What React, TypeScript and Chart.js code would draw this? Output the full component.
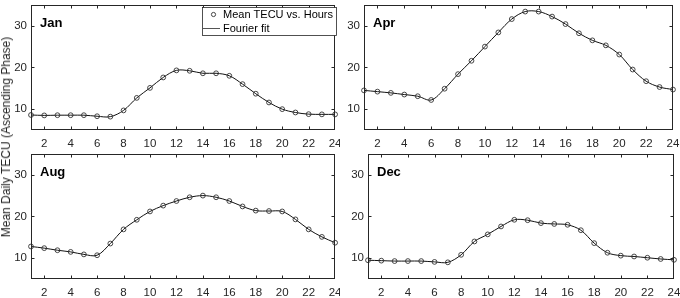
import React, { useEffect, useRef } from "react";
import { Chart, registerables } from "chart.js";

Chart.register(...registerables);

// ---------- data ----------
const hours = [1, 2, 3, 4, 5, 6, 7, 8, 9, 10, 11, 12, 13, 14, 15, 16, 17, 18, 19, 20, 21, 22, 23, 24];
const janValues = [8.6, 8.5, 8.55, 8.55, 8.55, 8.3, 8.2, 9.7, 12.7, 15.1, 17.6, 19.3, 19.2, 18.6, 18.6, 18.0, 16.0, 13.7, 11.6, 10.0, 9.2, 8.8, 8.75, 8.75];
const aprValues = [14.5, 14.2, 13.9, 13.5, 13.1, 12.2, 14.9, 18.4, 21.6, 25.0, 28.4, 31.6, 33.4, 33.4, 32.2, 30.4, 28.2, 26.5, 25.3, 23.1, 19.5, 16.7, 15.3, 14.7];
const augValues = [12.8, 12.4, 11.9, 11.5, 10.9, 10.7, 13.5, 16.9, 19.2, 21.2, 22.6, 23.7, 24.6, 25.0, 24.6, 23.7, 22.4, 21.4, 21.3, 21.2, 19.3, 16.9, 15.1, 13.7];
const decValues = [9.5, 9.4, 9.3, 9.3, 9.3, 9.1, 9.0, 10.8, 14.0, 15.7, 17.6, 19.2, 19.1, 18.4, 18.2, 18.0, 16.7, 13.6, 11.3, 10.6, 10.4, 10.1, 9.8, 9.6];
const xTickValues = [2, 4, 6, 8, 10, 12, 14, 16, 18, 20, 22, 24];
const yTickValues = [10, 20, 30];
const xRange = [1, 24];
const yRange = [5, 35];
const legendLabels = ["Mean TECU vs. Hours", "Fourier fit"];
const yAxisTitle = "Mean Daily TECU (Ascending Phase)";

const FONT = "'Liberation Sans', Arial, Helvetica, sans-serif";
const TEXT = "#262626";

type Area = { left: number; top: number; right: number; bottom: number };
type PanelProps = {
  title: string;
  values: number[];
  pos: { left: number; top: number; width: number; height: number };
  area: Area;
  legend?: boolean;
};

function Panel({ title, values, pos, area, legend }: PanelProps) {
  const ref = useRef<HTMLCanvasElement | null>(null);

  useEffect(() => {
    if (!ref.current) return;
    const pts = hours.map((h, i) => ({ x: h, y: values[i] }));

    const framePlugin = {
      id: "frame",
      afterDraw(chart: any) {
        const ctx = chart.ctx;
        const ca = chart.chartArea;
        const xs = chart.scales.x;
        const ys = chart.scales.y;
        const L = Math.round(ca.left) + 0.5;
        const R = Math.round(ca.right) - 0.5;
        const T = Math.round(ca.top) + 0.5;
        const B = Math.round(ca.bottom) - 0.5;
        ctx.save();
        ctx.strokeStyle = TEXT;
        ctx.lineWidth = 1;
        ctx.strokeRect(L, T, R - L, B - T);
        const tl = 3;
        ctx.beginPath();
        xTickValues.forEach((v) => {
          const px = Math.round(xs.getPixelForValue(v)) + 0.5;
          if (px < R - 1) {
            ctx.moveTo(px, B);
            ctx.lineTo(px, B - tl);
            ctx.moveTo(px, T);
            ctx.lineTo(px, T + tl);
          }
        });
        yTickValues.forEach((v) => {
          const py = Math.round(ys.getPixelForValue(v)) + 0.5;
          ctx.moveTo(L, py);
          ctx.lineTo(L + tl, py);
          ctx.moveTo(R, py);
          ctx.lineTo(R - tl, py);
        });
        ctx.stroke();

        // panel title
        ctx.fillStyle = "#000";
        ctx.font = `bold 13px ${FONT}`;
        ctx.textAlign = "left";
        ctx.textBaseline = "alphabetic";
        ctx.fillText(title, ca.left + 9, ca.top + 22.5);

        if (legend) {
          const bx = 202.5, by = 7.5, bw = 134, bh = 28;
          ctx.fillStyle = "#fff";
          ctx.fillRect(bx, by, bw, bh);
          ctx.strokeStyle = TEXT;
          ctx.lineWidth = 0.8;
          ctx.strokeRect(bx, by, bw, bh);
          // marker
          ctx.beginPath();
          ctx.lineWidth = 0.9;
          ctx.strokeStyle = "#333";
          ctx.arc(213.5, 14.5, 2.1, 0, Math.PI * 2);
          ctx.stroke();
          // line
          ctx.beginPath();
          ctx.strokeStyle = "#555";
          ctx.lineWidth = 1;
          ctx.moveTo(203, 28.5);
          ctx.lineTo(220, 28.5);
          ctx.stroke();
          ctx.fillStyle = "#000";
          ctx.font = `11px ${FONT}`;
          ctx.textBaseline = "middle";
          ctx.fillText(legendLabels[0], 223, 14.5);
          ctx.fillText(legendLabels[1], 223, 28.5);
        }
        ctx.restore();
      },
    };

    const chart = new Chart(ref.current, {
      type: "line",
      data: {
        datasets: [
          {
            label: legendLabels[1],
            data: pts,
            borderColor: "#111",
            borderWidth: 1,
            pointRadius: 0,
            tension: 0.35,
            fill: false,
            order: 2,
          },
          {
            label: legendLabels[0],
            data: pts,
            showLine: false,
            pointRadius: 2.4,
            pointBorderWidth: 0.9,
            pointBorderColor: "#333",
            pointBackgroundColor: "rgba(0,0,0,0)",
            clip: false as any,
            order: 1,
          },
        ],
      },
      options: {
        animation: false,
        responsive: false,
        maintainAspectRatio: false,
        events: [],
        layout: {
          padding: { left: 0, top: area.top, right: pos.width - area.right, bottom: 0 },
        },
        plugins: { legend: { display: false }, tooltip: { enabled: false } },
        scales: {
          x: {
            type: "linear",
            min: xRange[0],
            max: xRange[1],
            afterBuildTicks: (s: any) => {
              s.ticks = xTickValues.map((v) => ({ value: v }));
            },
            afterFit: (s: any) => {
              s.height = pos.height - area.bottom;
              s.paddingLeft = 0;
              s.paddingRight = 0;
            },
            grid: { display: false, drawTicks: false },
            border: { display: false },
            ticks: {
              autoSkip: false,
              maxRotation: 0,
              padding: 6.5,
              color: TEXT,
              font: { family: FONT, size: 11.5 },
            },
          },
          y: {
            type: "linear",
            min: yRange[0],
            max: yRange[1],
            afterBuildTicks: (s: any) => {
              s.ticks = yTickValues.map((v) => ({ value: v }));
            },
            afterFit: (s: any) => {
              s.width = area.left;
              s.paddingTop = 0;
              s.paddingBottom = 0;
            },
            grid: { display: false, drawTicks: false },
            border: { display: false },
            ticks: {
              padding: 4,
              color: TEXT,
              font: { family: FONT, size: 11.5 },
            },
          },
        },
      },
      plugins: [framePlugin],
    } as any);

    return () => chart.destroy();
  }, []);

  return (
    <canvas
      ref={ref}
      width={pos.width}
      height={pos.height}
      style={{ position: "absolute", left: pos.left, top: pos.top, width: pos.width, height: pos.height }}
    />
  );
}

export default function App() {
  return (
    <div style={{ position: "absolute", left: 0, top: 0, width: 680, height: 298, background: "#fff", overflow: "hidden" }}>
      <Panel
        title="Jan"
        values={janValues}
        pos={{ left: 0, top: 0, width: 340, height: 149 }}
        area={{ left: 31, top: 1, right: 339, bottom: 130 }}
        legend
      />
      <Panel
        title="Apr"
        values={aprValues}
        pos={{ left: 340, top: 0, width: 340, height: 149 }}
        area={{ left: 24, top: 1, right: 333, bottom: 130 }}
      />
      <Panel
        title="Aug"
        values={augValues}
        pos={{ left: 0, top: 149, width: 340, height: 149 }}
        area={{ left: 31, top: 2, right: 339, bottom: 130 }}
      />
      <Panel
        title="Dec"
        values={decValues}
        pos={{ left: 340, top: 149, width: 340, height: 149 }}
        area={{ left: 28, top: 2, right: 334, bottom: 130 }}
      />
      <div
        style={{
          position: "absolute",
          left: 5.7,
          top: 137,
          transform: "translate(-50%, -50%) rotate(-90deg)",
          whiteSpace: "nowrap",
          fontFamily: FONT,
          fontSize: 12,
          color: TEXT,
          lineHeight: "14px",
        }}
      >
        {yAxisTitle}
      </div>
    </div>
  );
}
